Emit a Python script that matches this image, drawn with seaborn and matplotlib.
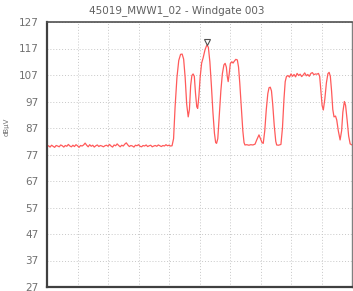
import numpy as np
import pandas as pd
import matplotlib
matplotlib.use("Agg")
import matplotlib.pyplot as plt
import matplotlib.transforms as mtransforms
import seaborn as sns

title = "45019_MWW1_02 - Windgate 003"
y_label = "dBµV"
y_ticks = [27, 37, 47, 57, 67, 77, 87, 97, 107, 117, 127]

# baseline (noise floor) samples, every 0.5 sweep units from 0 to 40.5
baseline_db = [
    80.0, 80.3, 79.8, 80.5, 80.1, 79.7, 80.4, 80.2, 79.9, 80.6,
    80.3, 79.8, 80.4, 80.1, 80.8, 80.2, 79.9, 80.5, 80.0, 80.7,
    80.3, 79.7, 80.4, 80.2, 80.6, 81.3, 80.5, 79.9, 80.7, 80.1,
    80.5, 79.8, 80.3, 80.6, 80.0, 80.4, 80.2, 79.9, 80.3, 80.5,
    80.1, 80.8, 80.2, 79.8, 80.6, 80.3, 81.0, 80.4, 79.9, 80.5,
    80.2, 80.9, 81.4, 80.6, 80.0, 80.4, 80.2, 79.8, 80.5, 80.3,
    80.7, 80.1, 79.9, 80.4, 80.2, 80.6, 80.0, 80.3, 80.5, 79.9,
    80.2, 80.4, 80.1, 80.6, 80.3, 80.0, 80.4, 80.2, 80.7, 80.3,
    80.5, 80.2,
]
baseline_x = list(np.arange(len(baseline_db)) * 0.5)

active_x = [
    41.0, 41.5, 42.0, 42.6, 43.2, 43.8, 44.3, 44.8, 45.3, 45.8,
    46.3, 46.7, 47.1, 47.5, 47.9, 48.3, 48.7, 49.1, 49.4, 49.8,
    50.2, 50.7, 51.2, 51.8, 52.4, 52.9, 53.4, 53.9, 54.4, 54.9,
    55.3, 55.6, 56.0, 56.5, 57.0, 57.5, 58.0, 58.4, 58.8, 59.1,
    59.4, 59.7, 60.1, 60.6, 61.0, 61.4, 61.9, 62.4, 62.8, 63.2,
    63.7, 64.2, 64.6, 64.9, 65.5, 66.2, 66.8, 67.5, 68.2, 68.8,
    69.5, 70.0, 70.5, 70.9, 71.4, 71.9, 72.4, 72.8, 73.2, 73.6,
    74.0, 74.5, 75.0, 75.3, 75.9, 76.7, 77.2, 77.7, 78.1, 78.5,
    79.0, 79.5, 80.0, 80.5, 81.0, 81.5, 82.0, 82.5, 83.0, 83.5,
    84.0, 84.5, 85.0, 85.5, 86.0, 86.5, 87.0, 87.5, 88.0, 88.5,
    89.0, 89.4, 89.8, 90.2, 90.6, 91.1, 91.6, 92.1, 92.5, 92.9,
    93.3, 93.7, 94.1, 94.6, 95.0, 95.5, 96.1, 96.6, 97.0, 97.5,
    97.9, 98.4, 98.9, 99.4, 100.0,
]
active_db = [
    80.3, 83.0, 95.0, 106.0, 112.5, 114.8, 114.9, 113.0, 106.0, 96.0,
    91.2, 94.0, 103.0, 106.8, 107.4, 106.5, 100.0, 95.0, 94.4, 99.0,
    106.0, 111.5, 113.5, 116.5, 118.3, 117.5, 112.0, 103.0, 93.0, 85.0,
    81.5, 81.2, 83.0, 92.0, 101.0, 107.5, 110.8, 111.4, 110.0, 106.5,
    104.5, 107.0, 111.3, 112.0, 111.5, 112.2, 112.9, 112.7, 110.0, 104.0,
    95.0, 86.0, 81.5, 80.6, 80.7, 80.5, 80.7, 80.6, 80.9, 82.6,
    84.4, 83.0, 81.5, 81.2, 86.0, 94.0, 100.0, 102.2, 102.4, 101.0,
    96.0, 88.0, 82.0, 80.6, 80.5, 80.8, 87.0, 98.0, 104.5, 106.4,
    106.8, 106.2, 107.4, 106.5, 107.2, 106.3, 107.6, 106.8, 107.3, 106.4,
    107.0, 107.8, 106.7, 107.2, 106.5, 107.6, 107.9, 107.1, 107.4, 107.3,
    107.6, 106.5, 101.0, 95.5, 93.8, 98.0, 104.0, 107.5, 108.0, 106.5,
    101.0, 94.0, 91.2, 91.5, 90.0, 86.0, 82.5, 86.0, 93.0, 97.0,
    95.5, 90.0, 84.0, 81.0, 80.6,
]

df = pd.DataFrame({
    "x": baseline_x + active_x,
    "level": baseline_db + active_db,
})

sns.set_style("white")
plt.rcParams["font.family"] = ["DejaVu Sans"]

fig = plt.figure(figsize=(3.53, 2.91), dpi=100)
ax = fig.add_axes([47 / 353, 1 - 287 / 291, 305 / 353, 265 / 291])

sns.lineplot(data=df, x="x", y="level", ax=ax, color="#ff5a5a",
             linewidth=0.9, estimator=None, sort=False)

# peak marker
imax = int(np.argmax(df["level"].values))
off = mtransforms.offset_copy(ax.transData, fig=fig, x=0, y=2.5, units="points")
ax.plot(df["x"].values[imax], df["level"].values[imax], marker="v",
        markersize=4, markerfacecolor="none", markeredgecolor="#505050",
        markeredgewidth=0.8, transform=off, zorder=5)

ax.set_xlim(0, 100)
ax.set_ylim(27, 127)
ax.set_yticks(y_ticks)
ax.set_xticks(np.arange(0, 101, 10))
ax.set_xticklabels([])
ax.set_xlabel("")
ax.set_ylabel("")
ax.tick_params(axis="both", length=0)
ax.tick_params(axis="y", pad=6, labelsize=7.5, labelcolor="#707070")
ax.grid(True, color="#c8c8c8", linewidth=0.7, linestyle=(0, (1, 2)))

for side, col, lw in [("left", "#404040", 1.6), ("bottom", "#404040", 1.6),
                      ("top", "#505050", 1.2), ("right", "#808080", 1.0)]:
    ax.spines[side].set_visible(True)
    ax.spines[side].set_color(col)
    ax.spines[side].set_linewidth(lw)

fig.text(0.5, 1 - 11 / 291, title, ha="center", va="center",
         fontsize=7.5, color="#606060")
fig.text(7 / 353, 1 - 127 / 291, y_label, ha="center", va="center",
         rotation=90, fontsize=5, color="#707070")

fig.savefig("out.png", dpi=100)
